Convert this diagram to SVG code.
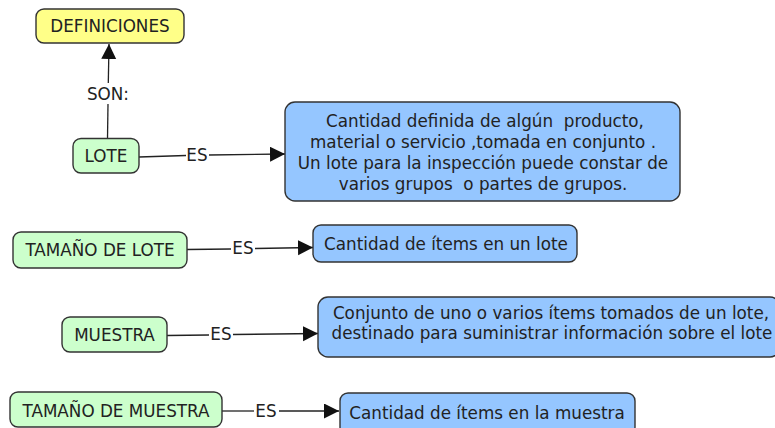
<svg xmlns="http://www.w3.org/2000/svg" width="775" height="428" viewBox="0 0 775 428">
<style>
  .box { stroke: #333333; stroke-width: 1.4; }
  .yellow { fill: #ffff88; }
  .green { fill: #ccffcc; }
  .blue { fill: #95c6ff; }
  text { font-family: "DejaVu Sans", Verdana, sans-serif; font-size: 16.8px; fill: #222222; text-anchor: middle; white-space: pre; }
  .line { stroke: #222222; stroke-width: 1.3; fill: none; }
</style>
<defs>
  <marker id="arrow" markerUnits="userSpaceOnUse" markerWidth="16" markerHeight="16" refX="15" refY="7.5" orient="auto">
    <path d="M0,0 L15,7.5 L0,15 Z" fill="#111111"/>
  </marker>
</defs>
<rect width="775" height="428" fill="#ffffff"/>

<g id="connectors">
  <path class="line" d="M107.5,138 L108,104"/>
  <path class="line" d="M108.3,83 L109,44" marker-end="url(#arrow)"/>
  <text x="108" y="100">SON:</text>

  <path class="line" d="M139,157 L186,155.5"/>
  <path class="line" d="M209,155 L285,154" marker-end="url(#arrow)"/>
  <text x="197" y="161">ES</text>

  <path class="line" d="M187,249.5 L231,249"/>
  <path class="line" d="M255,248.5 L313,247.5" marker-end="url(#arrow)"/>
  <text x="243" y="254">ES</text>

  <path class="line" d="M167,335.5 L209,335"/>
  <path class="line" d="M233,334.5 L318,333.5" marker-end="url(#arrow)"/>
  <text x="221" y="340">ES</text>

  <path class="line" d="M222,411 L254,411"/>
  <path class="line" d="M279,411 L339,411" marker-end="url(#arrow)"/>
  <text x="266" y="417">ES</text>
</g>

<g id="definiciones">
  <rect class="box yellow" x="36" y="9" width="148" height="34" rx="8"/>
  <text x="110" y="32">DEFINICIONES</text>
</g>

<g id="lote">
  <rect class="box green" x="73" y="138.5" width="66" height="34.5" rx="8"/>
  <text x="106" y="162">LOTE</text>
</g>

<g id="def-lote">
  <rect class="box blue" x="285" y="102" width="395" height="99" rx="10"/>
  <text x="485" y="127">Cantidad definida de algún  producto,</text>
  <text x="483" y="148">material o servicio ,tomada en conjunto .</text>
  <text x="483" y="169">Un lote para la inspección puede constar de</text>
  <text x="483" y="190">varios grupos  o partes de grupos.</text>
</g>

<g id="tamano-lote">
  <rect class="box green" x="13" y="232" width="174" height="36" rx="8"/>
  <text x="100" y="256">TAMAÑO DE LOTE</text>
</g>

<g id="def-tamano-lote">
  <rect class="box blue" x="313" y="225" width="264" height="37" rx="8"/>
  <text x="446" y="250">Cantidad de ítems en un lote</text>
</g>

<g id="muestra">
  <rect class="box green" x="62" y="317" width="105" height="35" rx="8"/>
  <text x="114.5" y="341">MUESTRA</text>
</g>

<g id="def-muestra">
  <rect class="box blue" x="318" y="297" width="462" height="60" rx="10"/>
  <text x="551" y="319">Conjunto de uno o varios ítems tomados de un lote,</text>
  <text x="552" y="339">destinado para suministrar información sobre el lote</text>
</g>

<g id="tamano-muestra">
  <rect class="box green" x="10" y="392" width="212" height="35" rx="8"/>
  <text x="116" y="417">TAMAÑO DE MUESTRA</text>
</g>

<g id="def-tamano-muestra">
  <rect class="box blue" x="340" y="393" width="295" height="42" rx="8"/>
  <text x="487" y="419">Cantidad de ítems en la muestra</text>
</g>
</svg>
